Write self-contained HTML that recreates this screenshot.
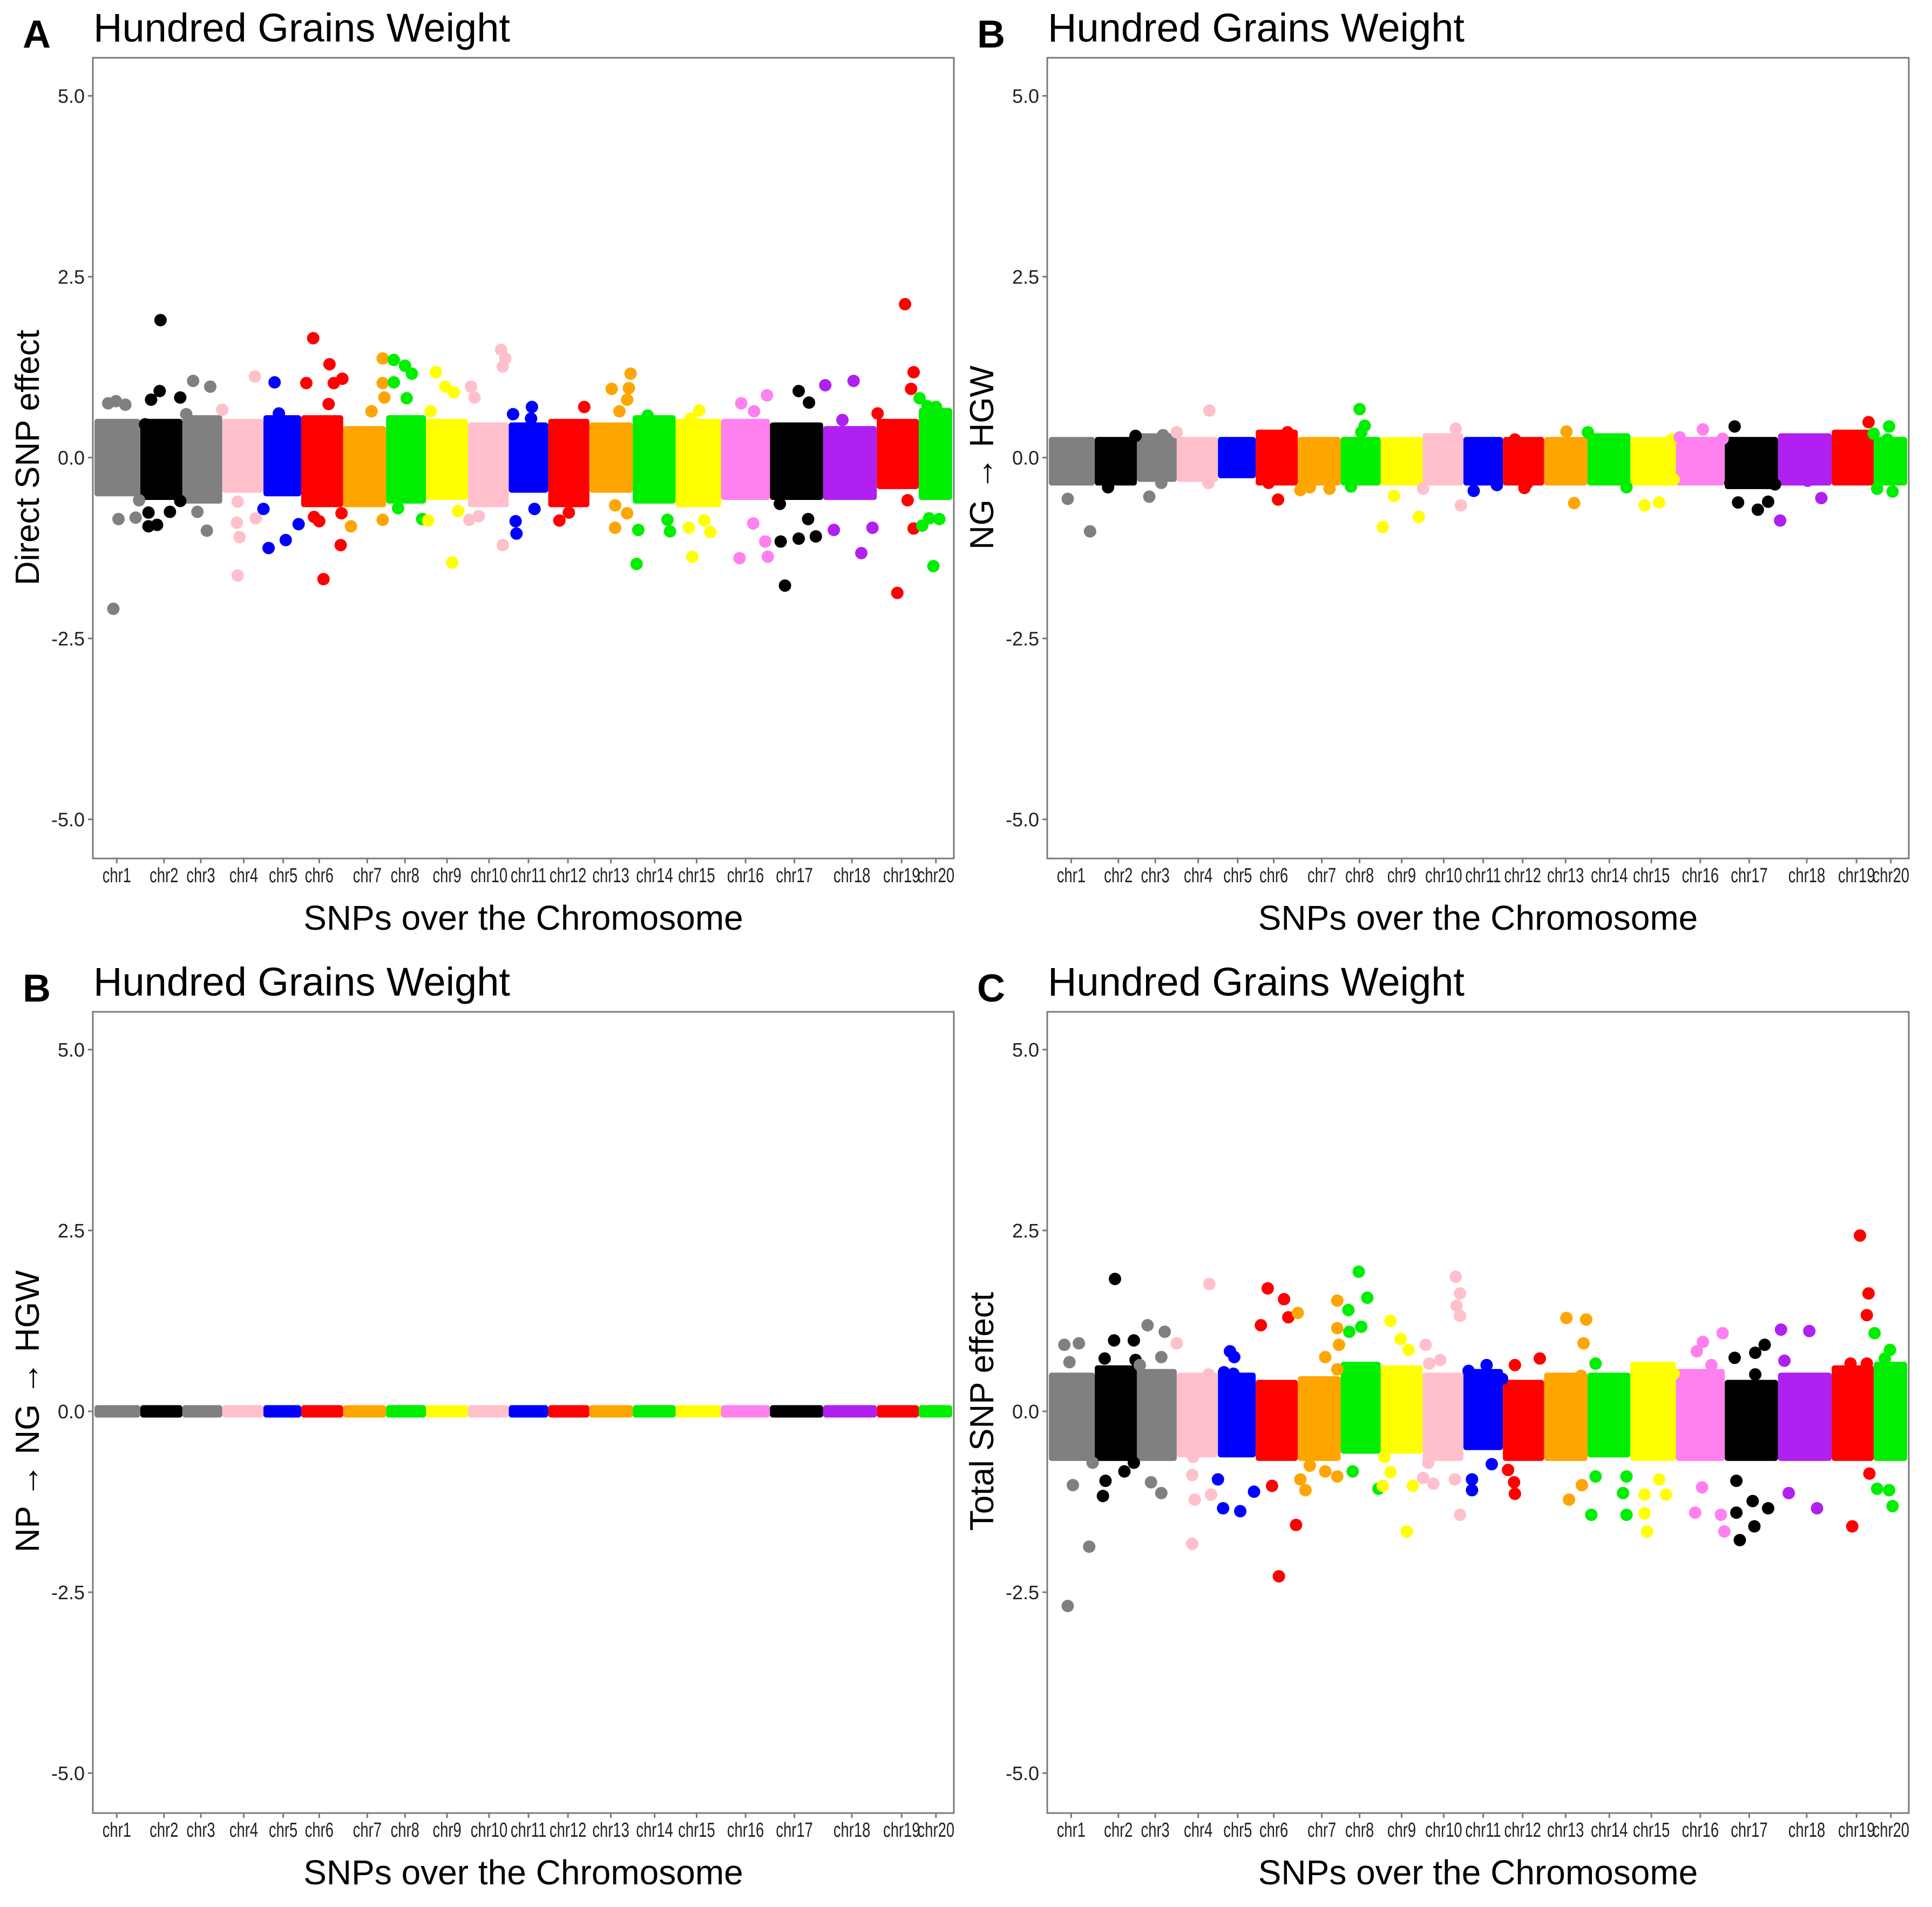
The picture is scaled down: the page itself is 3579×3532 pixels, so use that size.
<!DOCTYPE html>
<html><head><meta charset="utf-8"><style>
html,body{margin:0;padding:0;background:#fff;}
svg{display:block;font-family:"Liberation Sans",Arial,sans-serif;}
</style></head><body>
<svg id="fig" width="3579" height="3532" viewBox="0 0 3579 3532" xmlns="http://www.w3.org/2000/svg"></svg>
<script>
// ---- data ----
const chrNames = ["chr1","chr2","chr3","chr4","chr5","chr6","chr7","chr8","chr9","chr10","chr11","chr12","chr13","chr14","chr15","chr16","chr17","chr18","chr19","chr20"];
const chrCenters = [26,81,124,174,220,262,318,362,411,460,506,552,602,653,702,759,816,883,941,981];
const chrColors = ["#808080","#000000","#808080","#FFC0CB","#0000FF","#FF0000","#FFA500","#00EE00","#FFFF00","#FFC0CB","#0000FF","#FF0000","#FFA500","#00EE00","#FFFF00","#FF80EE","#000000","#B020F0","#FF0000","#00EE00"];
const yTicks = [5.0, 2.5, 0.0, -2.5, -5.0];
const yTickLabels = ["5.0","2.5","0.0","-2.5","-5.0"];

const bandHighA = [0.45,0.45,0.5,0.45,0.5,0.5,0.35,0.5,0.45,0.4,0.4,0.45,0.4,0.5,0.45,0.45,0.4,0.35,0.45,0.6];
const bandLowA  = [-0.45,-0.5,-0.55,-0.4,-0.45,-0.6,-0.6,-0.55,-0.5,-0.6,-0.4,-0.6,-0.4,-0.55,-0.6,-0.5,-0.5,-0.5,-0.35,-0.5];
const outliersA = [[16,.75],[25,.78],[36,.73],[28,-.85],[48,-.83],[22,-2.09],[52,-.59],
[77,1.9],[76,.92],[66,.8],[100,.83],[107,.6],[63,-.76],[63,-.95],[73,-.93],[88,-.75],[100,-.6],[59,.46],
[115,1.06],[135,.98],[149,.66],[120,-.75],[131,-1.01],
[187,1.12],[166,-.9],[169,-1.1],[167,-1.63],[188,-.84],[197,-.71],[167,-.61],
[210,1.04],[215,.61],[203,-1.25],[223,-1.14],[238,-.92],
[255,1.65],[274,1.29],[247,1.03],[279,1.03],[289,1.09],[273,.74],[256,-.82],[262,-.88],[287,-1.21],[267,-1.68],[299,-.95],[288,-.77],
[336,1.37],[336,1.03],[338,.83],[323,.64],[336,-.86],
[349,1.35],[362,1.27],[370,1.16],[349,1.04],[364,.82],[354,-.7],[382,-.85],[389,-.87],
[398,1.18],[409,.98],[419,.9],[439,.98],[443,.83],[392,.64],[417,-1.45],[424,-.74],[437,-.86],
[474,1.49],[479,1.37],[476,1.26],[488,.6],[476,-1.21],[448,-.81],
[510,.7],[509,.54],[491,-.88],[492,-1.05],[513,-.71],
[542,-.87],[553,-.76],
[571,.7],[603,.95],[625,1.16],[623,.96],[621,.8],[612,.64],[607,-.66],[621,-.77],[607,-.97],
[645,.58],[634,-1.0],[632,-1.47],[671,-1.02],[668,-.86],
[705,.65],[695,.54],[693,-.97],[711,-.87],[718,-1.03],[697,-1.37],
[754,.75],[784,.86],[769,.64],[752,-1.39],[785,-1.37],[782,-1.16],[768,-.91],
[821,.92],[833,.76],[805,-1.77],[800,-1.16],[821,-1.12],[841,-1.09],[832,-.85],[799,-.64],
[852,1.0],[885,1.06],[913,.61],[872,.52],[862,-1.0],[894,-1.32],[907,-.97],
[945,2.12],[955,1.18],[952,.95],[962,.82],[936,-1.87],[955,-.98],[965,-.94],[948,-.59],
[971,.71],[981,.7],[978,-1.5],[973,-.84],[985,-.85]];

const bandHighB = [0.2,0.2,0.25,0.2,0.2,0.3,0.2,0.2,0.2,0.25,0.2,0.2,0.2,0.25,0.2,0.2,0.2,0.25,0.3,0.2];
const bandLowB  = [-0.3,-0.3,-0.25,-0.25,-0.2,-0.3,-0.3,-0.3,-0.3,-0.3,-0.3,-0.3,-0.3,-0.3,-0.3,-0.3,-0.35,-0.3,-0.3,-0.3];
const outliersB = [[48,-1.02],[22,-.57],[101,.3],[69,-.41],
[149,.35],[133,.31],[117,-.54],[131,-.35],
[187,.65],[186,-.35],
[278,.35],[267,-.58],[293,-.45],[256,-.35],
[327,-.43],[304,-.41],
[362,.67],[368,.44],[364,.35],[389,-.96],[352,-.4],
[431,-.82],[402,-.53],[436,-.43],
[474,.4],[455,.25],[480,-.66],
[495,-.46],[522,-.38],
[543,.25],[554,-.42],
[603,.36],[612,-.63],[557,-.36],
[628,.35],[673,-.41],
[694,-.66],[711,-.62],[728,-.3],[726,.25],
[762,.39],[735,.28],[785,.26],
[799,.43],[803,-.62],[826,-.72],[838,-.61],[794,-.35],[846,-.37],
[852,-.87],[900,-.56],[884,-.32],
[955,.49],[940,.3],[961,.33],[965,-.43],
[979,.43],[983,-.47],[977,.25]];

const bandHighNP = [0,0,0,0,0,0,0,0,0,0,0,0,0,0,0,0,0,0,0,0];
const bandLowNP  = [0,0,0,0,0,0,0,0,0,0,0,0,0,0,0,0,0,0,0,0];
const outliersNP = [];

const bandHighC = [0.45,0.55,0.5,0.45,0.45,0.35,0.4,0.6,0.55,0.45,0.5,0.35,0.45,0.45,0.6,0.5,0.35,0.45,0.55,0.6];
const bandLowC  = [-0.6,-0.6,-0.6,-0.55,-0.55,-0.6,-0.6,-0.5,-0.5,-0.6,-0.45,-0.6,-0.6,-0.55,-0.6,-0.6,-0.6,-0.6,-0.6,-0.6];
const outliersC = [[22,-2.69],[47,-1.87],[28,-1.02],[18,.92],[35,.94],[24,.68],[51,-.71],
[77,1.83],[76,.98],[99,.98],[65,.73],[101,.71],[106,.64],[70,.52],[63,-1.17],[66,-.96],[88,-.83],[99,-.71],
[115,1.19],[135,1.1],[149,.94],[131,.75],[119,-.98],[131,-1.13],
[187,1.76],[167,-1.83],[170,-1.22],[189,-1.15],[167,-.88],[197,-.94],[168,-.63],[186,.51],
[211,.83],[216,.75],[204,.54],[215,.52],[203,-1.34],[223,-1.38],[239,-1.11],
[255,1.7],[274,1.55],[279,1.3],[290,1.36],[247,1.19],[268,-2.28],[288,-1.57],[293,-.94],[299,-1.09],[260,-1.03],
[336,1.53],[336,1.15],[338,.92],[322,.75],[336,.58],[304,-.75],[322,-.83],[336,-.9],
[361,1.93],[371,1.57],[349,1.4],[364,1.17],[350,1.1],[354,-.83],[384,-1.07],[389,-1.03],[391,-.63],
[398,1.25],[410,1.0],[419,.85],[439,.92],[443,.66],[417,-1.66],[424,-1.03],[436,-.92],[398,-.84],[442,-.71],
[474,1.86],[479,1.63],[475,1.46],[479,1.32],[456,.71],[489,.56],[479,-1.43],[448,-1.0],[473,-.94],
[510,.64],[507,.41],[493,-.94],[493,-1.09],[516,-.73],
[543,.64],[528,.45],[542,-.98],[543,-1.14],[535,-.81],
[603,1.29],[626,1.27],[623,.94],[572,.73],[620,.49],[606,-1.22],[621,-1.02],
[637,.66],[632,-1.43],[673,-1.43],[669,-1.13],[637,-.9],[673,-.9],
[708,.56],[695,.52],[728,.52],[697,-1.66],[694,-1.41],[694,-1.15],[719,-1.15],[711,-.94],
[785,1.08],[762,.96],[755,.83],[772,.64],[787,-1.66],[783,-1.43],[753,-1.4],[761,-1.05],
[834,.92],[823,.81],[799,.74],[823,.51],[805,-1.78],[822,-1.59],[801,-1.4],[838,-1.34],[820,-1.24],[801,-.96],
[853,1.13],[886,1.11],[857,.7],[895,-1.34],[862,-1.13],
[945,2.43],[955,1.63],[953,1.33],[962,1.08],[936,-1.59],[965,-1.07],[956,-.86],[934,.66],[953,.66],
[980,.85],[974,.73],[983,-1.31],[979,-1.09]];

// ---- layout ----
const NS = "http://www.w3.org/2000/svg";
const svg = document.getElementById("fig");
const R = 11.5;
function mk(tag, attrs, parent){
  const e = document.createElementNS(NS, tag);
  for (const k in attrs) e.setAttribute(k, attrs[k]);
  (parent||svg).appendChild(e);
  return e;
}
const starts = [], ends = [];
for (let i=0;i<chrCenters.length;i++){
  const lo = i===0 ? Math.max(0, chrCenters[0] - (chrCenters[1]-chrCenters[0])/2) : (chrCenters[i-1]+chrCenters[i])/2;
  const hi = i===chrCenters.length-1 ? Math.min(1000, chrCenters[i] + (chrCenters[i]-chrCenters[i-1])/2) : (chrCenters[i]+chrCenters[i+1])/2;
  starts.push(lo); ends.push(hi);
}
function chrOf(pos){ for (let i=0;i<starts.length;i++){ if (pos>=starts[i] && pos<ends[i]) return i; } return pos<starts[0]?0:starts.length-1; }

const panels = [
  {key:"a", letter:"A", l:172, t:107, r:1767, b:1590, zero:847.5, ylab:"Direct SNP effect", hi:bandHighA, lo:bandLowA, out:outliersA},
  {key:"b", letter:"B", l:1940, t:107, r:3536, b:1590, zero:847.5, ylab:"NG \u2192 HGW", hi:bandHighB, lo:bandLowB, out:outliersB},
  {key:"np", letter:"B", l:172, t:1874, r:1767, b:3358, zero:2614, ylab:"NP \u2192 NG \u2192 HGW", hi:bandHighNP, lo:bandLowNP, out:outliersNP},
  {key:"c", letter:"C", l:1940, t:1874, r:3536, b:3358, zero:2614, ylab:"Total SNP effect", hi:bandHighC, lo:bandLowC, out:outliersC}
];
const PXU = 134;

panels.forEach(p => {
  const g = mk("g", {});
  
  
  const xs = v => p.l + 3 + (v/1000)*(p.r - p.l - 6);
  const ys = v => p.zero - v*PXU;

  const L = mk("text", {x:p.l-130, y:p.t-19, "font-size":72, "font-weight":"bold", fill:"#000"}, g);
  L.textContent = p.letter;
  
  
  const T = mk("text", {x:p.l+1, y:p.t-30, "font-size":74, fill:"#000"}, g);
  T.textContent = "Hundred Grains Weight";
  
  

  const F = mk("rect", {x:p.l, y:p.t, width:p.r-p.l, height:p.b-p.t, fill:"none", stroke:"#7a7a7a", "stroke-width":3}, g);
  
  

  yTicks.forEach((v,i) => {
    const y = ys(v);
    const tk = mk("line", {x1:p.l-9, x2:p.l, y1:y, y2:y, stroke:"#7a7a7a", "stroke-width":3}, g);
    
    
    const tl = mk("text", {x:p.l-15, y:y+13, "font-size":36, "text-anchor":"end", fill:"#222"}, g);
    tl.textContent = yTickLabels[i];
    
    
  });

  chrCenters.forEach((c,i) => {
    const x = xs(c);
    const tk = mk("line", {x1:x, x2:x, y1:p.b, y2:p.b+9, stroke:"#7a7a7a", "stroke-width":3}, g);
    
    
    const tl = mk("text", {transform:"translate("+x+","+(p.b+44)+") scale(0.72,1)", "font-size":38, "text-anchor":"middle", fill:"#222"}, g);
    tl.textContent = chrNames[i];
    
    
  });

  const XT = mk("text", {x:(p.l+p.r)/2, y:p.b+132, "font-size":64, "text-anchor":"middle", fill:"#000"}, g);
  XT.textContent = "SNPs over the Chromosome";
  
  
  const YT = mk("text", {transform:"translate("+(p.l-100)+","+p.zero+") rotate(-90)", "font-size":62, "text-anchor":"middle", fill:"#000"}, g);
  YT.textContent = p.ylab;
  
  

  chrNames.forEach((n,i) => {
    const x0 = xs(starts[i]), x1 = xs(ends[i]);
    const yt = ys(p.hi[i]) - R, yb = ys(p.lo[i]) + R;
    const band = mk("rect", {x:x0, y:yt, width:Math.max(0,x1-x0), height:yb-yt, rx:5, ry:5, fill:chrColors[i]}, g);
    
    
  });

  p.out.forEach(pt => {
    const ci = chrOf(pt[0]);
    const c = mk("circle", {cx:xs(pt[0]), cy:ys(pt[1]), r:R, fill:chrColors[ci]}, g);
    
    
  });
});
</script>
</body></html>
